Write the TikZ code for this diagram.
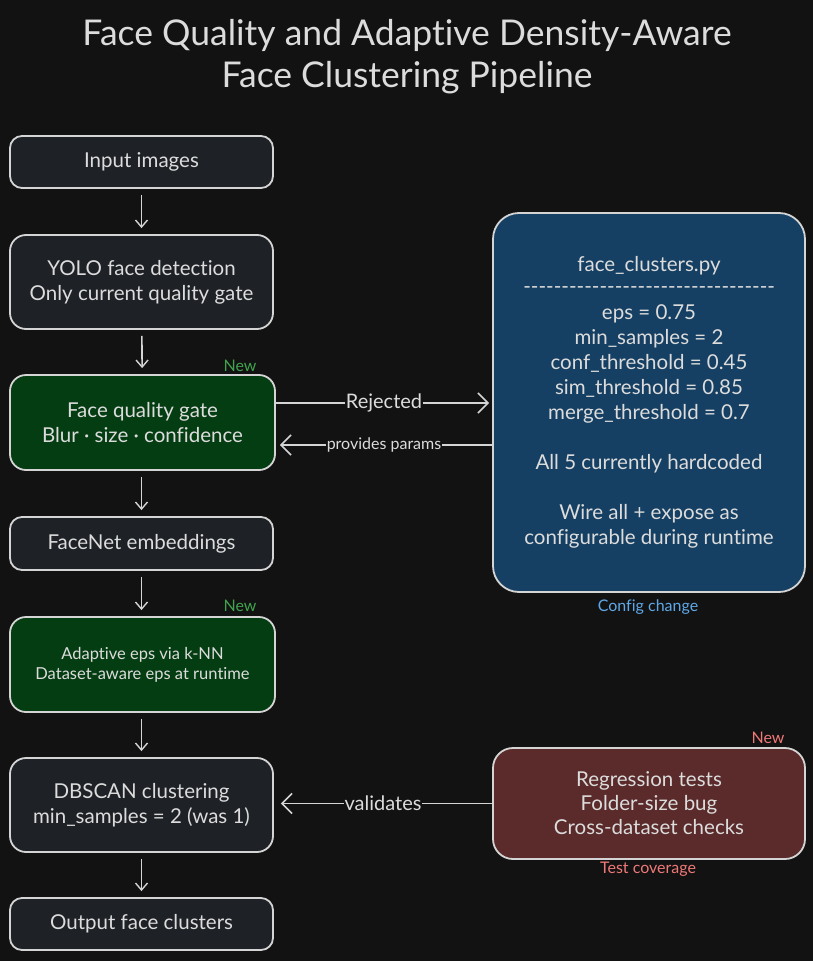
\documentclass[tikz,border=0pt]{standalone}
\usepackage{fontspec}
\setmainfont[Ligatures={NoCommon}]{Lato}
\usetikzlibrary{arrows.meta}
\definecolor{bg}{HTML}{121212}
\definecolor{gbox}{HTML}{1E2126}
\definecolor{edge}{HTML}{D4D4D4}
\definecolor{gfill}{HTML}{053D12}
\definecolor{bfill}{HTML}{164063}
\definecolor{rfill}{HTML}{5B2B2B}
\definecolor{txt}{HTML}{DCDCDC}
\definecolor{newg}{HTML}{3FA34D}
\definecolor{newr}{HTML}{F07878}
\definecolor{cfgb}{HTML}{5FA8E8}
\tikzset{
  box/.style={draw=edge, line width=1.8pt, rounded corners=12pt, fill=gbox, text=txt,
    align=center, inner sep=0pt, font=\fontsize{20.5}{25}\selectfont},
  flow/.style={draw=edge, line width=1.6pt, -{Straight Barb[length=7pt,width=12pt,line width=1.4pt]}},
  side/.style={draw=edge, line width=1.6pt, -{Straight Barb[length=10pt,width=20pt,line width=1.6pt]}},
  lab/.style={fill=bg, text=txt, inner sep=1pt},
  tag/.style={font=\fontsize{16}{18}\selectfont, inner sep=0pt}
}
\begin{document}
\begin{tikzpicture}[x=1pt,y=-1pt]
\fill[bg] (0,0) rectangle (813,961);
\useasboundingbox (0,0) rectangle (813,961);

\node[text=txt, align=center, font=\fontsize{35.5}{42}\selectfont] (title) at (407,57)
  {Face Quality and Adaptive Density-Aware\\Face Clustering Pipeline};

\node[box, minimum width=263pt, minimum height=52pt] (in) at (141.5,162) {Input images};
\node[box, rounded corners=16pt, minimum width=263pt, minimum height=94pt] (yolo) at (141.5,282)
  {YOLO face detection\\Only current quality gate};
\node[box, rounded corners=16pt, fill=gfill, minimum width=265pt, minimum height=95pt] (qg) at (142.5,422.5)
  {Face quality gate\\Blur · size · confidence};
\node[box, minimum width=263pt, minimum height=53pt] (fn) at (141.5,543.5) {FaceNet embeddings};
\node[box, rounded corners=16pt, fill=gfill, minimum width=265pt, minimum height=95pt,
  font=\fontsize{16.5}{20}\selectfont] (ad) at (142.5,664.5)
  {Adaptive eps via k-NN\\Dataset-aware eps at runtime};
\node[box, rounded corners=16pt, minimum width=263pt, minimum height=94pt] (db) at (141.5,805)
  {DBSCAN clustering\\min\_samples = 2 (was 1)};
\node[box, minimum width=263pt, minimum height=52pt] (out) at (141.5,924) {Output face clusters};

\node[box, rounded corners=26pt, fill=bfill, minimum width=312pt, minimum height=379pt,
  font=\fontsize{20.5}{25}\selectfont] (cfg) at (649,402.5)
  {face\_clusters.py\\[-3pt]
   -{}-{}-{}-{}-{}-{}-{}-{}-{}-{}-{}-{}-{}-{}-{}-{}-{}-{}-{}-{}-{}-{}-{}-{}-{}-{}-{}-{}-{}-{}-{}-{}-{}\\[1pt]
   eps = 0.75\\min\_samples = 2\\conf\_threshold = 0.45\\sim\_threshold = 0.85\\merge\_threshold = 0.7\\[25pt]
   All 5 currently hardcoded\\[25pt]
   Wire all + expose as\\configurable during runtime};
\node[box, rounded corners=20pt, fill=rfill, minimum width=312pt, minimum height=111pt,
  font=\fontsize{20.5}{24}\selectfont] (reg) at (649,803.5)
  {Regression tests\\Folder-size bug\\Cross-dataset checks};

\node[tag, text=newg] (new1) at (240,366) {New};
\node[tag, text=newg] (new2) at (240,606) {New};
\node[tag, text=newr] (new3) at (768,738) {New};
\node[tag, text=cfgb] (cfgl) at (648,607) {Config change};
\node[tag, text=newr] (regl) at (648,869) {Test coverage};

\draw[flow, shorten <=6pt, shorten >=6pt] (in) -- (yolo);
\draw[flow, shorten <=6pt, shorten >=6pt] (yolo) -- (qg);
\draw[flow, shorten <=6pt, shorten >=6pt] (qg.south -| in.south) -- (fn);
\draw[flow, shorten <=6pt, shorten >=6pt] (fn) -- (ad.north -| fn.south);
\draw[flow, shorten <=6pt, shorten >=6pt] (ad.south -| fn.south) -- (db);
\draw[flow, shorten <=6pt, shorten >=6pt] (db) -- (out);

\coordinate (rA) at ([yshift=19.5pt]qg.east);
\coordinate (pA) at ([yshift=-22.5pt]qg.east);
\draw[side, shorten >=3pt] (rA) -- (rA -| cfg.west)
  node[lab, midway, font=\fontsize{20}{22}\selectfont] {Rejected};
\draw[side, shorten >=4pt] (pA -| cfg.west) -- (pA)
  node[lab, midway, font=\fontsize{16}{18}\selectfont] {provides params};
\draw[side, shorten >=7pt] (reg.west) -- (reg.west -| db.east)
  node[lab, midway, font=\fontsize{20}{22}\selectfont] {validates};
\end{tikzpicture}
\end{document}
